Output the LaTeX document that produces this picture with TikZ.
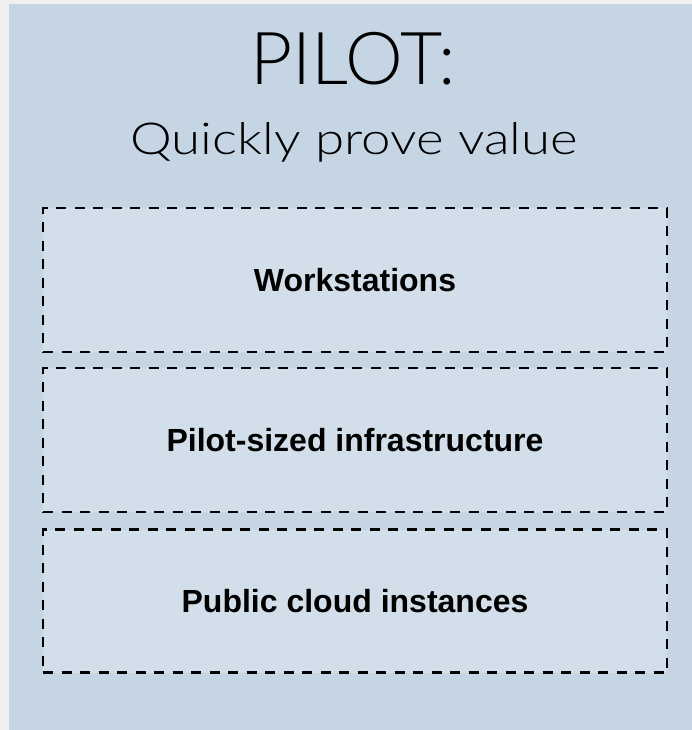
\documentclass[tikz,border=0pt]{standalone}
\usepackage{fontspec}
\setmainfont{Liberation Sans}
\newfontfamily\thinfont{Lato Light}
\newfontfamily\thinwide{Lato Light}[FakeStretch=1.2]
\usetikzlibrary{positioning}
\definecolor{pagegray}{HTML}{F0F0F0}
\definecolor{pilotbg}{HTML}{C5D5E4}
\definecolor{tierfill}{HTML}{D2DEE9}

\begin{document}
\begin{tikzpicture}[x=1pt,y=-1pt,node distance=16pt,
  tierbox/.style={draw=black,fill=tierfill,line width=2.6pt,dash pattern=on 10pt off 8.5pt,
    minimum width=624pt,minimum height=144pt,outer sep=0pt,inner sep=0pt,
    font=\bfseries\fontsize{32}{36}\selectfont},
  headtext/.style={anchor=base,inner sep=0pt,text=black}]
\useasboundingbox (0,0) rectangle (692,730);
\fill[pagegray] (0,0) rectangle (692,730);
\fill[pilotbg] (9,4) rectangle (692,730);
% title
\node[headtext,font=\thinfont\fontsize{73}{80}\selectfont](title) at (353,85){PILOT:};
\node[headtext,font=\thinwide\fontsize{44}{48}\selectfont](sub) at (354,155){Quickly prove value};
% tiers
\node[tierbox](ws) at (355,280){Workstations};
\node[tierbox,below=of ws](infra){Pilot-sized infrastructure};
\node[tierbox,below=17.5pt of infra,minimum height=143pt](cloud){Public cloud instances};
\end{tikzpicture}
\end{document}
